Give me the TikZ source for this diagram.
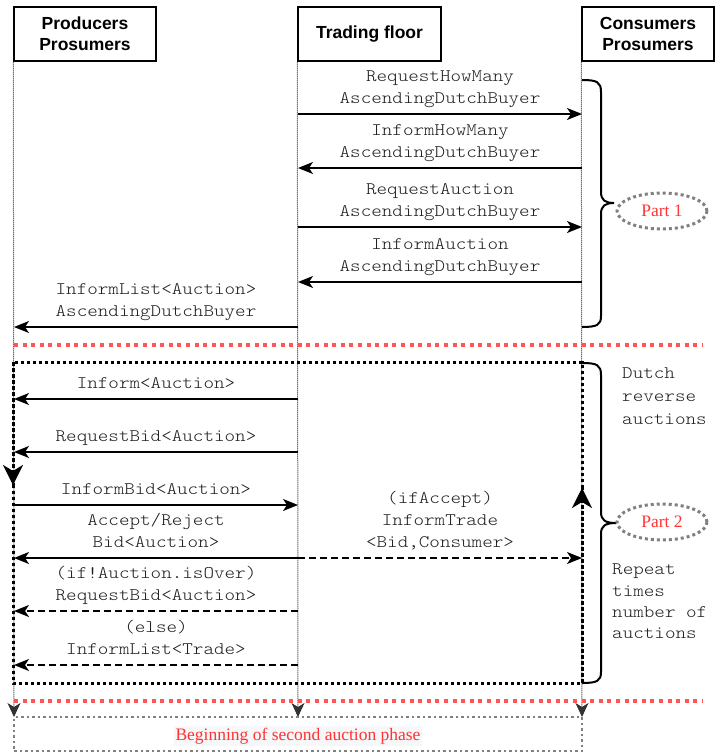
\documentclass[tikz,border=0pt]{standalone}
\usepackage{fontspec}
\setmainfont{Liberation Serif}
\setsansfont{Liberation Sans}
\setmonofont[FakeStretch=1.143]{lmmonolt10-regular.otf}
\usetikzlibrary{arrows.meta,shapes.geometric}
\definecolor{redd}{RGB}{255,85,85}
\definecolor{redt}{RGB}{255,51,51}
\definecolor{grayd}{RGB}{128,128,128}
\definecolor{txt}{RGB}{30,30,30}
\definecolor{bgl}{RGB}{246,247,249}
\newcommand{\monofnt}[1]{\ttfamily\fontsize{17.6}{#1}\selectfont}
\begin{document}
\begin{tikzpicture}[x=1pt,y=-1pt,
  hdr/.style={draw, line width=1.3pt, minimum height=54pt, align=center, inner sep=0pt,
    font=\sffamily\bfseries\fontsize{17.5}{21}\selectfont},
  lifeline/.style={line width=1pt, dash pattern=on 1pt off 1pt, black!85},
  msg/.style={line width=1.8pt, -{Stealth[length=15pt,width=12pt,inset=4pt]}},
  dmsg/.style={msg, dash pattern=on 7pt off 4pt},
  lbl/.style={inner sep=0pt, above=6pt, align=center, text=txt, text depth=4pt, font=\monofnt{22}},
  note/.style={inner sep=0pt, align=left, text=txt, anchor=north west},
  loopline/.style={line width=3pt, dash pattern=on 3pt off 3pt, black},
  looptip/.style={-{Stealth[length=20pt,width=20pt,inset=6pt]}},
  reddash/.style={line width=4pt, dash pattern=on 4pt off 4.6pt, redd},
  brace/.style={line width=2pt, black},
  part/.style={ellipse, draw=grayd, line width=3pt, dash pattern=on 3pt off 3pt,
    minimum width=90pt, minimum height=36pt, inner sep=0pt, text=redt,
    font=\fontsize{17.5}{20}\selectfont},
  endtip/.style={-{Stealth[length=14pt,width=13pt,inset=4pt,fill=black!80,color=black!80]}}
]
\useasboundingbox (0,0) rectangle (715,755);

% headers
\node[hdr, minimum width=142pt] (prod) at (85,34) {Producers\\Prosumers};
\node[hdr, minimum width=143pt] (trade) at (369.5,34) {Trading floor};
\node[hdr, minimum width=132pt] (cons) at (648,34) {Consumers\\Prosumers};

% lifeline ends
\coordinate (e1) at (14,717);
\coordinate (e2) at (298,717);
\coordinate (e3) at (582,717);
\draw[lifeline, endtip] (prod.south west) -- (e1);
\draw[lifeline, endtip] (trade.south west) -- (e2);
\draw[lifeline, endtip] (cons.south west) -- (e3);

% message coordinates
\foreach \n/\y in {1/114,2/168,3/227,4/282,5/327,6/399,7/452,8/505,9/558,10/611,11/665}{
  \coordinate (L\n) at (14,\y);
  \coordinate (M\n) at (298,\y);
  \coordinate (R\n) at (582,\y);
}

% part 1
\draw[msg] (M1) -- node[lbl] (t1) {RequestHowMany\\AscendingDutchBuyer} (R1);
\draw[msg] (R2) -- node[lbl] (t2) {InformHowMany\\AscendingDutchBuyer} (M2);
\draw[msg] (M3) -- node[lbl] (t3) {RequestAuction\\AscendingDutchBuyer} (R3);
\draw[msg] (R4) -- node[lbl] (t4) {InformAuction\\AscendingDutchBuyer} (M4);
\draw[msg] (M5) -- node[lbl] (t5) {InformList<Auction>\\AscendingDutchBuyer} (L5);

% part 2
\draw[msg] (M6) -- node[lbl] (t6) {Inform<Auction>} (L6);
\draw[msg] (M7) -- node[lbl] (t7) {RequestBid<Auction>} (L7);
\draw[msg] (L8) -- node[lbl] (t8) {InformBid<Auction>} (M8);
\draw[msg] (M9) -- node[lbl] (t9) {Accept/Reject\\Bid<Auction>} (L9);
\draw[dmsg] (M9) -- node[lbl] (t10) {(ifAccept)\\InformTrade\\<Bid,Consumer>} (R9);
\draw[dmsg] (M10) -- node[lbl] (t11) {(if!Auction.isOver)\\RequestBid<Auction>} (L10);
\draw[dmsg] (M11) -- node[lbl] (t12) {(else)\\InformList<Trade>} (L11);

% loop box
\coordinate (bTL) at (13,362);
\coordinate (bBL) at (13,683);
\coordinate (bBR) at (582,683);
\coordinate (bTR) at (582,362);
\coordinate (aL) at (13,485);
\coordinate (aR) at (582,488);
\draw[loopline] (aL) -- (bBL) -- (bBR) -- (aR);
\draw[loopline] (aR) -- (bTR) -- (bTL) -- (aL);
\draw[loopline, looptip] (bTL) -- (aL);
\draw[loopline, looptip] (bBR) -- (aR);

% red separators
\coordinate (s1a) at (14,345); \coordinate (s1b) at (703,345);
\coordinate (s2a) at (14,701); \coordinate (s2b) at (703,701);
\draw[reddash] (s1a) -- (s1b);
\draw[reddash] (s2a) -- (s2b);

% braces
\draw[brace] (582,80) .. controls (597,80) and (601,82) .. (601,92) -- (601,192)
  .. controls (601,200) and (605,203) .. (614,203)
  .. controls (605,203) and (601,206) .. (601,214) -- (601,316)
  .. controls (601,325) and (597,327) .. (582,327);
\draw[brace] (582,363) .. controls (597,363) and (601,365) .. (601,375) -- (601,512)
  .. controls (601,520) and (605,523) .. (616,523)
  .. controls (605,523) and (601,526) .. (601,534) -- (601,672)
  .. controls (601,681) and (597,683) .. (582,683);

\node[part] (p1) at (662,211) {Part 1};
\node[part] (p2) at (662,522) {Part 2};

\node[note, font=\monofnt{23}] (n1) at (622,368) {Dutch\\reverse\\auctions};
\node[note, font=\monofnt{21.3}] (n2) at (612,564) {Repeat\\times\\number of\\auctions};

% bottom phase box
\node[draw=grayd, line width=2.5pt, dash pattern=on 2.5pt off 3pt, minimum width=568pt,
  minimum height=34pt, inner sep=0pt] (phase) at (298,734) {};
\node[fill=bgl, text=redt, inner sep=1.5pt, font=\fontsize{17.5}{20}\selectfont] (ptxt) at (298,736)
  {Beginning of second auction phase};
\end{tikzpicture}
\end{document}
